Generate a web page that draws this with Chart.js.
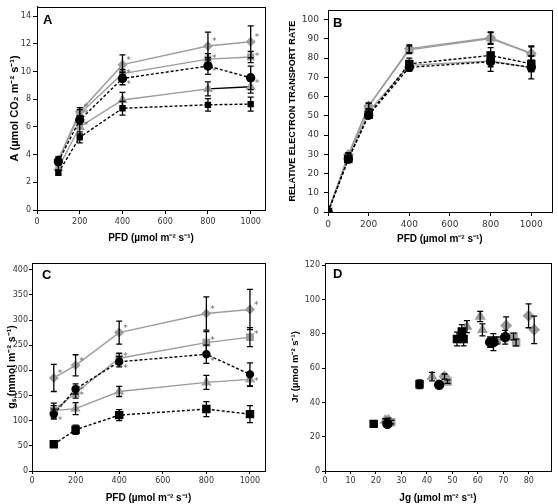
<!DOCTYPE html>
<html>
<head>
<meta charset="utf-8">
<script src="https://cdn.jsdelivr.net/npm/chart.js@4.4.1/dist/chart.umd.min.js"></script>
<style>
  body { margin: 0; background: #fff; }
  #wrap { position: relative; width: 558px; height: 504px; }
  canvas { position: absolute; }
</style>
</head>
<body>
<div id="wrap">
  <canvas id="chartA" width="279" height="252" style="left:0;top:0"></canvas>
  <canvas id="chartB" width="279" height="252" style="left:279px;top:0"></canvas>
  <canvas id="chartC" width="279" height="252" style="left:0;top:252px"></canvas>
  <canvas id="chartD" width="279" height="252" style="left:279px;top:252px"></canvas>
</div>
<script>
// light levels (PFD)
const pfd = [100, 200, 400, 800, 1000];
const pfdB = [0, 100, 200, 400, 800, 1000];

// Panel A - net CO2 assimilation
const aDiamond = [3.65, 7.1, 10.5, 11.85, 12.15];
const aDiamondErr = [0.2, 0.3, 0.7, 1.0, 1.15];
const aSquare = [3.55, 6.95, 9.85, 10.9, 11.05];
const aSquareErr = [0.2, 0.3, 0.3, 0.4, 0.4];
const aCircle = [3.5, 6.5, 9.5, 10.4, 9.55];
const aCircleErr = [0.2, 0.3, 0.45, 0.6, 0.85];
const aTriangle = [3.05, 6.0, 7.95, 8.75, 8.9];
const aTriangleErr = [0.2, 0.5, 0.55, 0.5, 0.45];
const aBlack = [2.7, 5.25, 7.35, 7.6, 7.65];
const aBlackErr = [0.2, 0.4, 0.5, 0.45, 0.5];
const aDiamondStar = [0, 1, 1, 1, 1];
const aSquareStar = [0, 1, 1, 1, 1];
const aCircleStar = [0, 1, 1, 1, 1];

// Panel B - relative electron transport rate
const bDiamond = [0, 29.8, 55.1, 84.9, 90.6, 82.4];
const bDiamondErr = [0, 1, 1.5, 2, 3, 4];
const bTriangle = [0, 29.5, 55.1, 84.3, 90.2, 82.4];
const bTriangleErr = [0, 1, 1.5, 2, 3, 3.5];
const bSquare = [0, 28.5, 52.2, 76.2, 78.5, 75];
const bSquareErr = [0, 1, 1, 2, 3, 2];
const bCircle = [0, 27.5, 50.3, 75.2, 78.1, 75.2];
const bCircleErr = [0, 1, 1, 2, 5, 6];
const bBlack = [0, 27.5, 50.6, 77, 81.4, 77];
const bBlackErr = [0, 1, 1, 3, 4, 4];

// Panel C - stomatal conductance
const cDiamond = [185, 210, 275, 313, 321];
const cDiamondErr = [27, 21, 23, 33, 40];
const cSquare = [120, 155, 224, 255, 266];
const cSquareErr = [15, 10, 10, 22, 19];
const cCircle = [113, 163, 217, 232, 192];
const cCircleErr = [10, 10, 10, 18, 23];
const cTriangle = [120, 124, 158, 176, 182];
const cTriangleErr = [10, 12, 10, 14, 14];
const cBlack = [53, 82, 111, 123, 113];
const cBlackErr = [5, 9, 11, 15, 17];
const cStars = [1, 1, 1, 1, 1];

// Panel D - Jr against Jg (Jr taken from panel B, without the 0 point)
const dDiamondJg = [24.8, 46.9, 71.1, 79.9, 82.1];
const dTriangleJg = [23.6, 42, 55.7, 60.9, 61.8];
const dSquareJg = [26, 48.1, 67.4, 74, 75];
const dCircleJg = [24.5, 44.8, 64.8, 70.7, 66.1];
const dBlackJg = [19.1, 37.1, 51.8, 53.7, 54.4];
const dDiamondErr = [1, 1.5, 5, 7, 8];
const dTriangleErr = [1, 2.5, 3.5, 3, 3.5];
const dSquareErr = [1, 1, 2, 2, 2];
const dCircleErr = [1, 1, 3, 4, 5];
const dBlackErr = [1, 2.5, 4, 4, 4];

const pfdTicks = [0, 200, 400, 600, 800, 1000];
const aTicks = [0, 2, 4, 6, 8, 10, 12, 14];
const bTicks = [0, 10, 20, 30, 40, 50, 60, 70, 80, 90, 100];
const cTicks = [0, 50, 100, 150, 200, 250, 300, 350, 400];
const dxTicks = [0, 10, 20, 30, 40, 50, 60, 70, 80];
const dyTicks = [0, 20, 40, 60, 80, 100, 120];

const GRAY = '#9c9c9c';
const grayLine = { borderColor: GRAY, borderWidth: 1.4, pointBackgroundColor: GRAY, pointBorderColor: GRAY };
const blackDash = { borderColor: '#000', borderWidth: 1.4, borderDash: [3, 2], pointBackgroundColor: '#000', pointBorderColor: '#000' };

function series(xs, ys, err, stars, base, style, radius, starDy) {
  return Object.assign({
    data: xs.map((x, i) => ({ x: x, y: ys[i] })),
    err: err,
    stars: stars,
    starDy: starDy || 0,
    pointStyle: style,
    pointRadius: radius,
    pointHoverRadius: radius,
    tension: 0,
    fill: false
  }, base);
}

// error bars and significance stars, placed through the chart scales
const errorBars = {
  id: 'errorBars',
  afterDatasetsDraw(chart) {
    const ctx = chart.ctx;
    const xs = chart.scales.x, ys = chart.scales.y;
    ctx.save();
    chart.data.datasets.forEach(ds => {
      ds.data.forEach((p, i) => {
        const px = xs.getPixelForValue(p.x);
        const py = ys.getPixelForValue(p.y);
        const e = ds.err ? ds.err[i] : 0;
        if (e) {
          const t = ys.getPixelForValue(p.y + e), b = ys.getPixelForValue(p.y - e);
          ctx.strokeStyle = '#000';
          ctx.lineWidth = 1.3;
          ctx.setLineDash([]);
          ctx.beginPath();
          ctx.moveTo(px, t); ctx.lineTo(px, b);
          ctx.moveTo(px - 3, t); ctx.lineTo(px + 3, t);
          ctx.moveTo(px - 3, b); ctx.lineTo(px + 3, b);
          ctx.stroke();
        }
        if (ds.stars && ds.stars[i]) {
          ctx.fillStyle = '#666';
          ctx.font = '9px "DejaVu Sans"';
          ctx.textAlign = 'left';
          ctx.textBaseline = 'middle';
          ctx.fillText('*', px + 4, py + ds.starDy);
        }
      });
    });
    ctx.restore();
  }
};

// box around the plot area plus panel letter
const frame = {
  id: 'frame',
  afterDraw(chart, args, opts) {
    const a = chart.chartArea, ctx = chart.ctx;
    ctx.save();
    ctx.strokeStyle = '#000';
    ctx.lineWidth = 1;
    ctx.strokeRect(Math.round(a.left) + 0.5, Math.round(a.top) + 0.5, Math.round(a.right - a.left), Math.round(a.bottom - a.top));
    ctx.fillStyle = '#000';
    ctx.font = 'bold 13px "Liberation Sans"';
    ctx.textBaseline = 'alphabetic';
    ctx.fillText(opts.letter, a.left + opts.dx, a.top + opts.dy);
    ctx.restore();
  }
};

function axes(o) {
  const tickFont = { family: 'DejaVu Sans', size: o.tickSize };
  return {
    x: {
      type: 'linear', min: 0, max: o.xMax,
      afterBuildTicks: s => { s.ticks = o.xTicks.map(v => ({ value: v })); },
      afterFit: s => { s.height = o.xH; },
      grid: { drawOnChartArea: false, drawTicks: true, tickLength: o.tick, color: '#000' },
      border: { display: true, color: '#000', width: 1 },
      ticks: { font: tickFont, color: '#333', padding: o.xPad, maxRotation: 0, callback: v => String(v) },
      title: { display: true, text: o.xTitle, color: '#000',
        font: { family: 'Liberation Sans', weight: 'bold', size: 10 }, padding: { top: 0, bottom: o.xTitlePad } }
    },
    y: {
      type: 'linear', min: 0, max: o.yMax,
      afterBuildTicks: s => { s.ticks = o.yTicks.map(v => ({ value: v })); },
      afterFit: s => { s.width = o.yW; },
      grid: { drawOnChartArea: false, drawTicks: true, tickLength: o.tick, color: '#000' },
      border: { display: true, color: '#000', width: 1 },
      ticks: { font: tickFont, color: '#333', padding: o.yPad, callback: v => String(v) },
      title: { display: true, text: o.yTitle, color: '#000',
        font: { family: 'Liberation Sans', weight: 'bold', size: o.yTitleSize }, padding: { top: o.yTitlePad, bottom: 0 } }
    }
  };
}

function makeChart(id, type, datasets, o) {
  return new Chart(document.getElementById(id), {
    type: type,
    data: { datasets: datasets },
    options: {
      responsive: false,
      animation: false,
      devicePixelRatio: 1,
      layout: { padding: { top: o.padTop, right: o.padRight, left: 0, bottom: 0 } },
      plugins: {
        legend: { display: false },
        tooltip: { enabled: false },
        frame: { letter: o.letter, dx: o.ldx, dy: o.ldy }
      },
      scales: axes(o)
    },
    plugins: [errorBars, frame]
  });
}

// A
const triA = series(pfd, aTriangle, aTriangleErr, null, grayLine, 'triangle', 4.5);
triA.segment = { borderColor: c => c.p0DataIndex === 3 ? '#000' : GRAY };
makeChart('chartA', 'line', [
  series(pfd, aBlack, aBlackErr, null, blackDash, 'rect', 3.5),
  series(pfd, aCircle, aCircleErr, aCircleStar, blackDash, 'circle', 4, 6),
  triA,
  series(pfd, aSquare, aSquareErr, aSquareStar, grayLine, 'rect', 4, 0),
  series(pfd, aDiamond, aDiamondErr, aDiamondStar, grayLine, 'rectRot', 4, -4)
], {
  letter: 'A', ldx: 6, ldy: 17, padTop: 1, padRight: 14, yW: 37, xH: 42,
  xMax: 1067, yMax: 14.68, xTicks: pfdTicks, yTicks: aTicks,
  tick: 4, tickSize: 8, xPad: 3, yPad: 2,
  xTitle: 'PFD (µmol m⁻² s⁻¹)', xTitlePad: 8,
  yTitle: 'A (µmol CO₂ m⁻² s⁻¹)', yTitleSize: 11, yTitlePad: 8
});

// B
makeChart('chartB', 'line', [
  series(pfdB, bBlack, bBlackErr, null, blackDash, 'rect', 5),
  series(pfdB, bCircle, bCircleErr, null, blackDash, 'circle', 4),
  series(pfdB, bSquare, bSquareErr, null, grayLine, 'rect', 4.5),
  series(pfdB, bTriangle, bTriangleErr, null, grayLine, 'triangle', 4.5),
  series(pfdB, bDiamond, bDiamondErr, null, grayLine, 'rectRot', 4.5)
], {
  letter: 'B', ldx: 5, ldy: 17, padTop: 1, padRight: 6, yW: 49, xH: 40,
  xMax: 1100, yMax: 104.8, xTicks: pfdTicks, yTicks: bTicks,
  tick: 4, tickSize: 9, xPad: 3, yPad: 5,
  xTitle: 'PFD (µmol m⁻² s⁻¹)', xTitlePad: 7,
  yTitle: 'RELATIVE ELECTRON TRANSPORT RATE', yTitleSize: 9, yTitlePad: 8
});

// C
makeChart('chartC', 'line', [
  series(pfd, cBlack, cBlackErr, null, blackDash, 'rect', 5),
  series(pfd, cCircle, cCircleErr, cStars, blackDash, 'circle', 3.5, 7),
  series(pfd, cTriangle, cTriangleErr, null, grayLine, 'triangle', 4.5),
  series(pfd, cSquare, cSquareErr, cStars, grayLine, 'rect', 4.5, -2),
  series(pfd, cDiamond, cDiamondErr, cStars, grayLine, 'rectRot', 4, -4)
], {
  letter: 'C', ldx: 10, ldy: 16, padTop: 11, padRight: 14, yW: 32, xH: 33,
  xMax: 1069, yMax: 413.3, xTicks: pfdTicks, yTicks: cTicks,
  tick: 3, tickSize: 8, xPad: 2, yPad: 1,
  xTitle: 'PFD (µmol m⁻² s⁻¹)', xTitlePad: 0,
  yTitle: 'gₛ (mmol m⁻² s⁻¹)', yTitleSize: 10.5, yTitlePad: 6
});

// D
const noLine = { showLine: false };
makeChart('chartD', 'scatter', [
  series(dBlackJg, bBlack.slice(1), dBlackErr, null, Object.assign({}, blackDash, noLine), 'rect', 5),
  series(dCircleJg, bCircle.slice(1), dCircleErr, null, Object.assign({}, blackDash, noLine), 'circle', 4.5),
  series(dSquareJg, bSquare.slice(1), dSquareErr, null, Object.assign({}, grayLine, noLine), 'rect', 5),
  series(dTriangleJg, bTriangle.slice(1), dTriangleErr, null, Object.assign({}, grayLine, noLine), 'triangle', 5),
  series(dDiamondJg, bDiamond.slice(1), dDiamondErr, null, Object.assign({}, grayLine, noLine), 'rectRot', 5)
], {
  letter: 'D', ldx: 8, ldy: 15, padTop: 11, padRight: 7, yW: 46, xH: 33,
  xMax: 88.7, yMax: 121.4, xTicks: dxTicks, yTicks: dyTicks,
  tick: 3, tickSize: 8, xPad: 2, yPad: 2,
  xTitle: 'Jg (µmol m⁻² s⁻¹)', xTitlePad: 0,
  yTitle: 'Jr (µmol m⁻² s⁻¹)', yTitleSize: 9.5, yTitlePad: 11
});
</script>
</body>
</html>
